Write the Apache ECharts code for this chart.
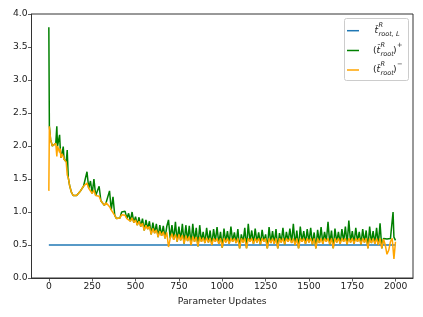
<!DOCTYPE html>
<html>
<head>
<meta charset="utf-8">
<script src="https://cdn.jsdelivr.net/npm/echarts@6/dist/echarts.min.js"></script>
<style>html,body{margin:0;padding:0;background:#fff}#c{width:423px;height:317px}</style>
</head>
<body>
<div id="c"></div>
<script>
// x positions (parameter updates)
const xs = [0,3,10,20,30,40,46,50,56,62,66,70,76,83,88,95,100,106,112,
120,130,140,150,160,170,180,190,
200,210,220,230,240,250,260,270,280,290,
300,310,320,330,340,350,360,370,380,390,
400,410,420,430,440,450,460,470,480,490,
500,510,520,530,540,550,560,570,580,590,
600,610,620,630,640,650,660,670,680,690,
700,710,720,730,740,750,760,770,780,790,
800,810,820,830,840,850,860,870,880,890,
900,910,920,930,940,950,960,970,980,990,
1000,1010,1020,1030,1040,1050,1060,1070,1080,1090,
1100,1110,1120,1130,1140,1150,1160,1170,1180,1190,
1200,1210,1220,1230,1240,1250,1260,1270,1280,1290,
1300,1310,1320,1330,1340,1350,1360,1370,1380,1390,
1400,1410,1420,1430,1440,1450,1460,1470,1480,1490,
1500,1510,1520,1530,1540,1550,1560,1570,1580,1590,
1600,1610,1620,1630,1640,1650,1660,1670,1680,1690,
1700,1710,1720,1730,1740,1750,1760,1770,1780,1790,
1800,1810,1820,1830,1840,1850,1860,1870,1880,1890,
1900,1910,1920,1930,1940,1950,1960,1970,1980,1985,1990,1999];

// (t_root^R)^+  (green)
const plusVals = [3.80,2.30,2.10,2.00,1.99,2.04,2.30,2.00,1.98,2.17,1.96,1.82,1.88,1.99,1.80,1.78,1.76,1.94,1.52,
1.40,1.30,1.25,1.24,1.25,1.28,1.31,1.35,
1.39,1.42,1.61,1.36,1.47,1.28,1.50,1.25,1.28,1.39,
1.17,1.20,1.10,1.14,1.11,1.32,1.03,1.23,0.95,0.90,
0.89,0.91,1.00,0.97,1.01,0.90,0.98,0.86,1.00,0.84,
0.93,0.80,0.92,0.78,0.90,0.72,0.88,0.74,0.86,0.66,
0.84,0.68,0.82,0.62,0.80,0.64,0.79,0.60,0.78,0.88,
0.60,0.80,0.58,0.85,0.55,0.78,0.57,0.82,0.52,0.80,
0.56,0.79,0.50,0.82,0.55,0.76,0.48,0.80,0.55,0.70,
0.53,0.76,0.54,0.72,0.50,0.74,0.55,0.77,0.52,0.70,
0.46,0.75,0.54,0.71,0.52,0.78,0.55,0.69,0.53,0.74,
0.45,0.66,0.54,0.76,0.45,0.82,0.55,0.72,0.52,0.75,
0.54,0.69,0.51,0.73,0.55,0.66,0.45,0.77,0.53,0.71,
0.52,0.74,0.45,0.68,0.54,0.76,0.51,0.70,0.55,0.75,
0.53,0.82,0.50,0.72,0.45,0.78,0.55,0.71,0.52,0.74,
0.54,0.76,0.51,0.69,0.45,0.73,0.53,0.77,0.52,0.70,
0.55,0.85,0.51,0.72,0.45,0.75,0.54,0.70,0.52,0.74,
0.55,0.78,0.51,0.87,0.54,0.71,0.52,0.76,0.55,0.70,
0.51,0.74,0.54,0.72,0.45,0.78,0.53,0.71,0.52,0.76,
0.50,0.83,0.45,0.60,0.60,0.59,0.59,0.60,0.60,1.00,0.62,0.57];

// (t_root^R)^-  (orange)
const minusVals = [1.32,2.30,2.10,2.00,1.99,2.04,1.84,2.00,1.98,1.90,1.96,1.82,1.88,1.84,1.80,1.78,1.76,1.56,1.52,
1.40,1.30,1.25,1.24,1.25,1.28,1.31,1.35,
1.39,1.42,1.44,1.36,1.38,1.28,1.33,1.25,1.28,1.24,
1.17,1.20,1.10,1.14,1.11,1.08,1.03,1.02,0.95,0.90,
0.89,0.91,0.96,0.97,0.95,0.90,0.93,0.86,0.91,0.84,
0.88,0.80,0.86,0.78,0.83,0.72,0.80,0.74,0.78,0.66,
0.75,0.68,0.73,0.62,0.71,0.64,0.70,0.60,0.69,0.47,
0.60,0.67,0.58,0.66,0.55,0.66,0.57,0.65,0.52,0.64,
0.56,0.63,0.50,0.63,0.55,0.62,0.48,0.62,0.55,0.61,
0.53,0.61,0.54,0.60,0.50,0.60,0.55,0.60,0.52,0.60,
0.46,0.60,0.54,0.60,0.52,0.60,0.55,0.60,0.53,0.60,
0.45,0.60,0.54,0.60,0.45,0.60,0.55,0.60,0.52,0.60,
0.54,0.60,0.51,0.60,0.55,0.60,0.45,0.60,0.53,0.60,
0.52,0.60,0.45,0.60,0.54,0.60,0.51,0.60,0.55,0.60,
0.53,0.60,0.50,0.60,0.45,0.60,0.55,0.60,0.52,0.60,
0.54,0.60,0.51,0.60,0.45,0.60,0.53,0.60,0.52,0.60,
0.55,0.60,0.51,0.60,0.45,0.60,0.54,0.60,0.52,0.60,
0.55,0.60,0.51,0.60,0.54,0.60,0.52,0.60,0.55,0.60,
0.51,0.60,0.54,0.60,0.45,0.60,0.53,0.60,0.52,0.60,
0.50,0.60,0.45,0.59,0.50,0.36,0.42,0.55,0.60,0.58,0.29,0.55];

// t_root,L^R (blue, constant)
const lowX = [0, 1999];
const lowVals = [0.5, 0.5];

const xTicks = [0,250,500,750,1000,1250,1500,1750,2000];
const yTicks = [0,0.5,1.0,1.5,2.0,2.5,3.0,3.5,4.0];

const FONT = 'DejaVu Sans';
const TXT = '#222';
const C_BLUE = '#1f77b4', C_GREEN = '#008000', C_ORANGE = '#ffa500';

const chart = echarts.init(document.getElementById('c'), null, {renderer:'canvas'});

function pairs(xa, ya){ return xa.map((x,i)=>[x, ya[i]]); }

function t(text, x, y, size, italic){
  return {type:'text', x:x, y:y, z:101, style:{text:text, fontSize:size, fontFamily:FONT,
    fontStyle: italic ? 'italic' : 'normal', fill:TXT, textAlign:'left', textVerticalAlign:'middle',
    align:'left', verticalAlign:'middle'}};
}

const big = 9.2, small = 6.6;
const legendGraphics = [
  {type:'rect', z:100, shape:{x:344.5, y:18.5, width:64, height:62, r:2},
   style:{fill:'rgba(255,255,255,0.8)', stroke:'#cccccc', lineWidth:1}},
  {type:'line', z:101, shape:{x1:347, y1:30.7, x2:359, y2:30.7}, style:{stroke:C_BLUE, lineWidth:1.5}},
  {type:'line', z:101, shape:{x1:347, y1:50.5, x2:359, y2:50.5}, style:{stroke:C_GREEN, lineWidth:1.5}},
  {type:'line', z:101, shape:{x1:347, y1:70, x2:359, y2:70}, style:{stroke:C_ORANGE, lineWidth:1.5}},
  // entry 1
  t('t\u0302', 374.5, 31, big, true),
  t('R', 378.5, 25.5, small, true),
  t('root, L', 378.5, 34.5, small, true),
  // entry 2
  t('(', 373, 50.5, big, false),
  t('t\u0302', 376.5, 50.5, big, true),
  t('R', 380.5, 45, small, true),
  t('root', 380.5, 54, small, true),
  t(')', 393, 50.5, big, false),
  t('+', 397, 45, small, false),
  // entry 3
  t('(', 373, 70, big, false),
  t('t\u0302', 376.5, 70, big, true),
  t('R', 380.5, 64.5, small, true),
  t('root', 380.5, 73.5, small, true),
  t(')', 393, 70, big, false),
  t('\u2212', 397, 64.5, small, false)
];

const option = {
  animation:false,
  backgroundColor:'#fff',
  grid:{left:31.5, right:10, top:14, bottom:39, show:true, borderColor:'#333', borderWidth:1,
        backgroundColor:'transparent', containLabel:false, outerBoundsMode:'none'},
  xAxis:{type:'value', min:-100, max:2100,
    name:'Parameter Updates', nameLocation:'middle', nameGap:19,
    nameTextStyle:{fontFamily:FONT, fontSize:9.2, color:TXT},
    axisLine:{show:true, onZero:false, lineStyle:{color:'#333', width:1}},
    axisTick:{show:true, inside:false, length:3.5, lineStyle:{color:'#333', width:0.8}, customValues:xTicks},
    axisLabel:{fontFamily:FONT, fontSize:9.2, color:TXT, margin:4, customValues:xTicks,
      formatter:(v)=>String(v)},
    splitLine:{show:false}},
  yAxis:{type:'value', min:0, max:4, interval:0.5,
    axisLine:{show:true, onZero:false, lineStyle:{color:'#333', width:1}},
    axisTick:{show:true, inside:false, length:3.5, lineStyle:{color:'#333', width:0.8}, customValues:yTicks},
    axisLabel:{fontFamily:FONT, fontSize:9.2, color:TXT, margin:4, customValues:yTicks,
      formatter:(v)=>v.toFixed(1)},
    splitLine:{show:false}},
  series:[
    {name:'t_root,L', type:'line', data:pairs(lowX, lowVals), showSymbol:false, symbol:'none',
     lineStyle:{color:C_BLUE, width:1.5}, itemStyle:{color:C_BLUE}, z:2},
    {name:'plus', type:'line', data:pairs(xs, plusVals), showSymbol:false, symbol:'none',
     lineStyle:{color:C_GREEN, width:1.5}, itemStyle:{color:C_GREEN}, z:3},
    {name:'minus', type:'line', data:pairs(xs, minusVals), showSymbol:false, symbol:'none',
     lineStyle:{color:C_ORANGE, width:1.5}, itemStyle:{color:C_ORANGE}, z:4}
  ],
  graphic:legendGraphics
};
chart.setOption(option);
</script>
</body>
</html>
